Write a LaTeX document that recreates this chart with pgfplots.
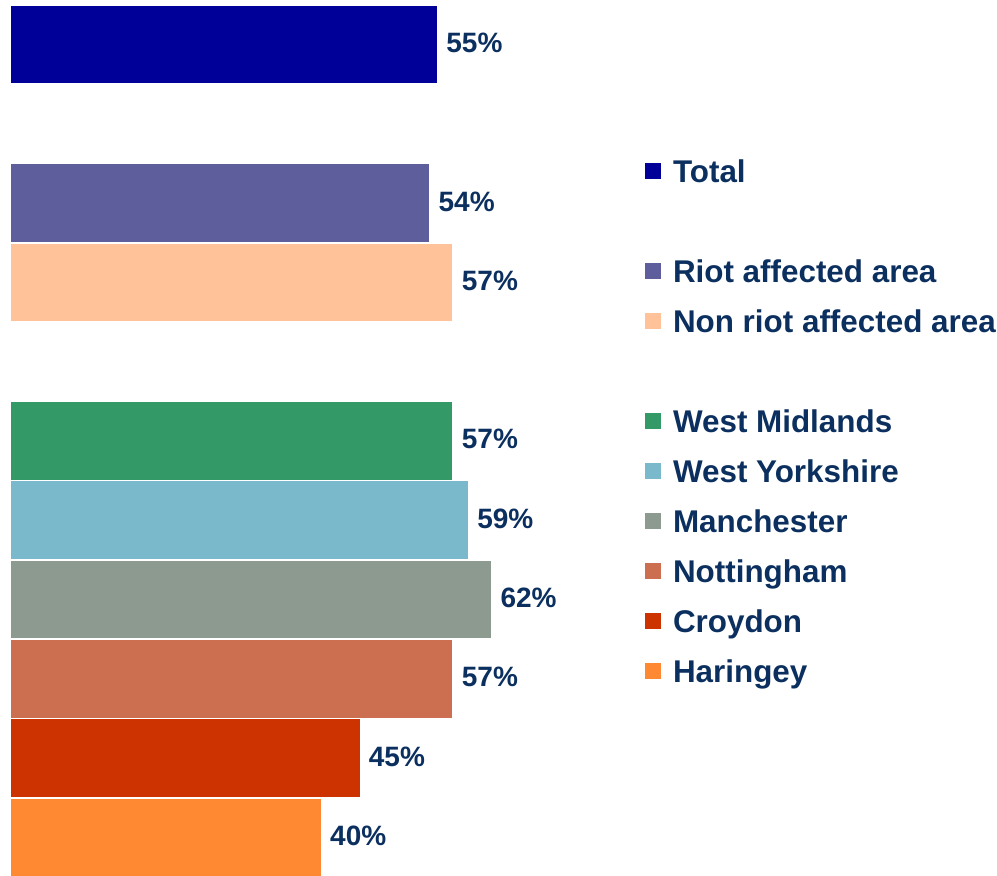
\documentclass[border=0pt]{standalone}
\usepackage{pgfplots}
\pgfplotsset{compat=1.18}
\usepackage{fontspec}
\setmainfont{Liberation Sans}
\definecolor{txt}{HTML}{0B2F5E}
\definecolor{ctotal}{HTML}{000099}
\definecolor{criot}{HTML}{5E5E9C}
\definecolor{cnon}{HTML}{FFC299}
\definecolor{cwm}{HTML}{339966}
\definecolor{cwy}{HTML}{7AB8CC}
\definecolor{cman}{HTML}{8C9A90}
\definecolor{cnot}{HTML}{CC6E50}
\definecolor{ccro}{HTML}{CC3300}
\definecolor{char}{HTML}{FF8833}
\begin{document}
\begin{tikzpicture}
\useasboundingbox (0,0) rectangle (498.5pt,438pt);
\begin{axis}[
  at={(5.5pt,-0.5pt)}, anchor=south west,
  scale only axis, width=387.25pt, height=436pt,
  xmin=0, xmax=100, ymin=-0.5, ymax=10.5, y dir=reverse,
  hide axis, clip=false,
  xbar, bar width=0.98, bar shift=0pt,
  legend image code/.code={\fill[#1,draw=none] (-0.5pt,-1.8pt) rectangle (7.5pt,6.0pt);},
  point meta=explicit symbolic,
  nodes near coords,
  every node near coord/.append style={anchor=base west, xshift=4.5pt, yshift=-4pt, inner sep=0pt,
     font=\fontsize{14}{16}\selectfont\bfseries, text=txt},
  legend style={at={(axis cs:81.86,1.455)}, anchor=north west, draw=none, fill=none,
     inner sep=0pt, outer sep=0pt, row sep=10pt, column sep=6pt,
     font=\fontsize{15.7}{18}\selectfont\bfseries, text=txt,
     nodes={inner sep=0pt, text height=11.5pt, text depth=3.5pt}},
  legend cell align=left,
]
\addplot[fill=ctotal, draw=none] coordinates {(55,0) [55\%]};
\addlegendentry{Total}
\addlegendimage{empty legend}\addlegendentry{}
\addplot[fill=criot, draw=none] coordinates {(54,2) [54\%]};
\addlegendentry{Riot affected area}
\addplot[fill=cnon, draw=none] coordinates {(57,3) [57\%]};
\addlegendentry{Non riot affected area}
\addlegendimage{empty legend}\addlegendentry{}
\addplot[fill=cwm, draw=none] coordinates {(57,5) [57\%]};
\addlegendentry{West Midlands}
\addplot[fill=cwy, draw=none] coordinates {(59,6) [59\%]};
\addlegendentry{West Yorkshire}
\addplot[fill=cman, draw=none] coordinates {(62,7) [62\%]};
\addlegendentry{Manchester}
\addplot[fill=cnot, draw=none] coordinates {(57,8) [57\%]};
\addlegendentry{Nottingham}
\addplot[fill=ccro, draw=none] coordinates {(45,9) [45\%]};
\addlegendentry{Croydon}
\addplot[fill=char, draw=none] coordinates {(40,10) [40\%]};
\addlegendentry{Haringey}
\end{axis}
\end{tikzpicture}
\end{document}
